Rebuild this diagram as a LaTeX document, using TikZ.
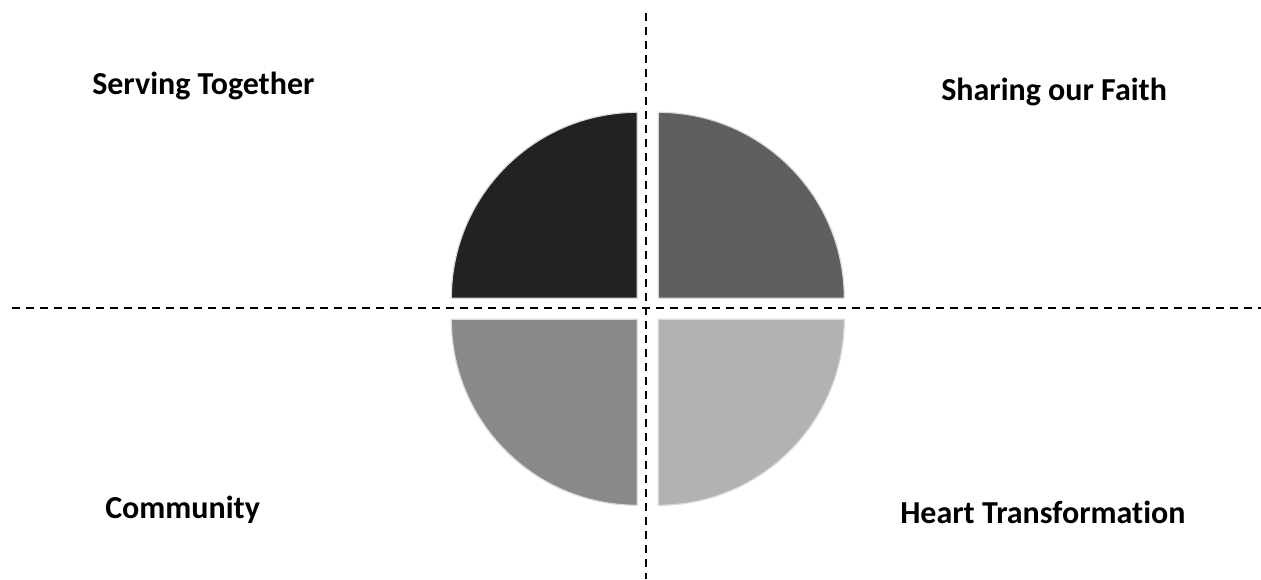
\documentclass[tikz,border=0pt]{standalone}
\usepackage{fontspec}
\setmainfont[Ligatures=NoCommon]{Carlito}
\usetikzlibrary{positioning}
\definecolor{QuarterDark}{HTML}{222222}
\definecolor{QuarterMid}{HTML}{5F5F5F}
\definecolor{QuarterLight}{HTML}{898989}
\definecolor{QuarterPale}{HTML}{B2B2B2}
\definecolor{QuarterEdge}{HTML}{DADADA}

\begin{document}
\begin{tikzpicture}[
    x=0.75pt, y=0.75pt,
    quarter/.style={
      fill=#1,
      draw=QuarterEdge,
      line width=0.9pt
    },
    heading/.style={
      font=\fontsize{24}{29}\selectfont\bfseries,
      anchor=base west,
      inner sep=0pt
    },
    axis/.style={
      dashed,
      dash pattern=on 6pt off 4.5pt,
      line width=1.4pt,
      color=black
    }
  ]

  % page frame
  \useasboundingbox (0,0) rectangle (1261,579);

  % four quarters round the centre
  \draw[quarter=QuarterDark]  (637.3,280.7) -- ++(-186,0) arc (180:90:186) -- cycle;
  \draw[quarter=QuarterMid]   (658.3,280.7) -- ++(0,186) arc (90:0:186) -- cycle;
  \draw[quarter=QuarterLight] (637.3,259.7) -- ++(-186,0) arc (180:270:186) -- cycle;
  \draw[quarter=QuarterPale]  (658.3,259.7) -- ++(186,0) arc (0:-90:186) -- cycle;

  % dashed axes
  \coordinate (vtop) at (646,566);
  \coordinate (vbot) at (646,0);
  \coordinate (hleft) at (12,271);
  \coordinate (hright) at (1261,271);
  \draw[axis] (vtop) -- (vbot);
  \draw[axis] (hleft) -- (hright);

  % labels
  \node[heading] (serving)   at (92,484)  {Serving Together};
  \node[heading] (sharing)   at (941,478) {Sharing our Faith};
  \node[heading] (community) at (105,61)  {Community};
  \node[heading] (heart)     at (900,56)  {Heart Transformation};

\end{tikzpicture}
\end{document}
